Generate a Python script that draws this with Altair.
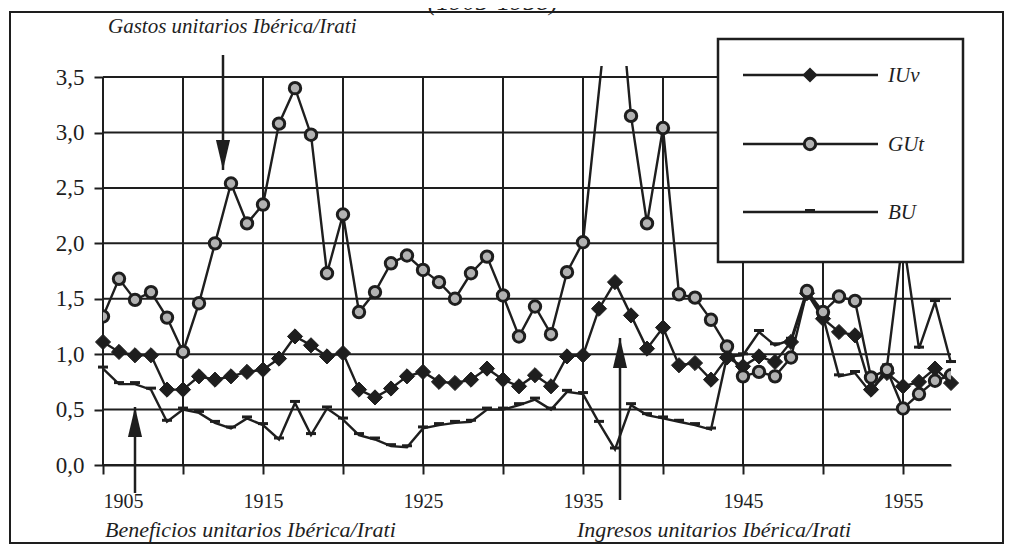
import altair as alt
import pandas as pd

# ---------------- data ----------------
years = list(range(1905, 1959))

iuv = [1.11, 1.02, 0.99, 0.99, 0.68, 0.68, 0.80, 0.77, 0.80, 0.84,
       0.86, 0.96, 1.16, 1.08, 0.98, 1.01, 0.68, 0.61, 0.69, 0.80,
       0.84, 0.75, 0.74, 0.77, 0.87, 0.77, 0.71, 0.81, 0.71, 0.98,
       0.99, 1.41, 1.65, 1.35, 1.05, 1.24, 0.90, 0.92, 0.77, 0.97,
       0.89, 0.98, 0.93, 1.11, 1.55, 1.32, 1.20, 1.17, 0.68, 0.83,
       0.71, 0.75, 0.87, 0.74]

gut = [1.34, 1.68, 1.49, 1.56, 1.33, 1.02, 1.46, 2.00, 2.54, 2.18,
       2.35, 3.08, 3.40, 2.98, 1.73, 2.26, 1.38, 1.56, 1.82, 1.89,
       1.76, 1.65, 1.50, 1.73, 1.88, 1.53, 1.16, 1.43, 1.18, 1.74,
       2.01, None, 4.75, 3.15, 2.18, 3.04, 1.54, 1.51, 1.31, 1.07,
       0.80, 0.84, 0.80, 0.97, 1.57, 1.38, 1.52, 1.48, 0.79, 0.86,
       0.51, 0.64, 0.76, 0.81]

bu = [0.87, 0.73, 0.73, 0.68, 0.39, 0.50, 0.47, 0.38, 0.33, 0.42,
      0.36, 0.23, 0.56, 0.27, 0.51, 0.41, 0.27, 0.23, 0.17, 0.16,
      0.33, 0.36, 0.38, 0.39, 0.50, 0.50, 0.54, 0.59, 0.50, 0.66,
      0.64, 0.38, 0.14, 0.54, 0.45, 0.42, 0.39, 0.36, 0.32, 0.98,
      0.99, 1.20, 1.08, 1.13, 1.58, 1.34, 0.80, 0.83, 0.65, 0.89,
      2.05, 1.05, 1.47, 0.92]

grid_years = [1905, 1910, 1915, 1920, 1925, 1930, 1935, 1940, 1945, 1950, 1955]
grid_values = [0.0, 0.5, 1.0, 1.5, 2.0, 2.5, 3.0, 3.5]
series_names = ["IUv", "GUt", "BU"]

title_text = "(1905-1958) \u00b9"
note_gastos = "Gastos unitarios Ib\u00e9rica/Irati"
note_benef = "Beneficios unitarios Ib\u00e9rica/Irati"
note_ingr = "Ingresos unitarios Ib\u00e9rica/Irati"

# ---------------- styling ----------------
INK = "#1e1e1e"
SERIF = "Liberation Serif"
X_SCALE = alt.Scale(domain=[1905, 1958], nice=False, zero=False)
Y_SCALE = alt.Scale(domain=[0, 3.6], nice=False, zero=False)

df = pd.DataFrame({"year": years, "IUv": iuv, "GUt": gut, "BU": bu})
vg = pd.DataFrame({"year": grid_years})
hg = pd.DataFrame({"v": grid_values})
one = pd.DataFrame({"k": [0]})

BU_PATH = "M-1,-0.6H1V0H-1Z"
TRI_DOWN = "M-0.47,-2L0.47,-2L0,0Z"
TRI_UP = "M-0.47,2L0.47,2L0,0Z"

XAX = alt.Axis(values=grid_years, format="d",
               labelExpr="(datum.value - 1905) % 10 == 0 ? datum.label : ''",
               grid=False, title=None, domainColor=INK, domainWidth=2,
               tickColor=INK, tickWidth=2, tickSize=9, labelFont=SERIF,
               labelFontSize=20, labelColor=INK, labelPadding=17)
YAX = alt.Axis(values=grid_values,
               labelExpr="replace(format(datum.value, '.1f'), '.', ',')",
               domain=False, grid=False, tickSize=9, tickWidth=2, tickColor=INK,
               labelFont=SERIF, labelFontSize=23, labelColor=INK,
               labelPadding=10, title=None)


def X(field):
    return alt.X(field, scale=X_SCALE, axis=XAX)


def Y(field):
    return alt.Y(field, scale=Y_SCALE, axis=YAX)


layers = []

# grid
layers.append(alt.Chart(vg).mark_rule(color=INK, strokeWidth=2).encode(
    x=X("year:Q"),
    y=alt.YDatum(0.0, scale=Y_SCALE, axis=YAX), y2=alt.Y2Datum(3.5)))
layers.append(alt.Chart(hg).mark_rule(color=INK, strokeWidth=2).encode(
    y=Y("v:Q"),
    x=alt.XDatum(1905, scale=X_SCALE, axis=XAX), x2=alt.X2Datum(1958)))

# BU
layers.append(alt.Chart(df).mark_line(color=INK, strokeWidth=2.4).encode(
    x=X("year:Q"), y=Y("BU:Q")))
layers.append(alt.Chart(df).mark_point(shape=BU_PATH, filled=True, size=100,
                                       fill=INK, opacity=1, strokeWidth=0).encode(
    x=X("year:Q"), y=Y("BU:Q")))

# IUv
layers.append(alt.Chart(df).mark_line(color=INK, strokeWidth=2.4).encode(
    x=X("year:Q"), y=Y("IUv:Q")))
layers.append(alt.Chart(df).mark_point(shape="diamond", filled=True, size=230,
                                       fill=INK, stroke=INK, strokeWidth=1,
                                       opacity=1).encode(
    x=X("year:Q"), y=Y("IUv:Q")))

# GUt
layers.append(alt.Chart(df).transform_filter("isValid(datum.GUt)").mark_line(
    color=INK, strokeWidth=2.4, clip=True).encode(
    x=X("year:Q"), y=Y("GUt:Q")))
layers.append(alt.Chart(df).transform_filter("isValid(datum.GUt)").mark_point(
    shape="circle", filled=True, size=130, fill="#b2b2b2", stroke=INK,
    strokeWidth=3, opacity=1, clip=True).encode(
    x=X("year:Q"), y=Y("GUt:Q")))


# annotation arrows
def arrow(x, y_from, y_to, tri):
    shaft = alt.Chart(one).mark_rule(color=INK, strokeWidth=2.5).encode(
        x=alt.value(x), y=alt.value(y_from), y2=alt.value(y_to))
    head = alt.Chart(one).mark_point(shape=tri, filled=True, size=900, fill=INK,
                                     opacity=1, strokeWidth=0).encode(
        x=alt.value(x), y=alt.value(y_to))
    return [shaft, head]


layers += arrow(120, -11, 104, TRI_DOWN)
layers += arrow(32, 427, 341, TRI_UP)
layers += arrow(517, 434, 272, TRI_UP)


def note(text, x, y, size=22, align="left", baseline="alphabetic"):
    return alt.Chart(one).mark_text(text=text, font=SERIF, fontStyle="italic",
                                    fontSize=size, color=INK, align=align,
                                    baseline=baseline).encode(
        x=alt.value(x), y=alt.value(y))


layers.append(note(note_gastos, 5, -33, size=21))
layers.append(note(note_benef, 2, 471, size=22))
layers.append(note(note_ingr, 474, 471, size=22))
layers.append(note(title_text, 397, -56, size=26, align="center"))

# legend box
layers.append(alt.Chart(one).mark_rect(fill="white", stroke=INK, strokeWidth=2.5).encode(
    x=alt.value(615), x2=alt.value(860), y=alt.value(-27), y2=alt.value(196)))
leg_rows = [9, 78, 146]
for name, yy in zip(series_names, leg_rows):
    layers.append(alt.Chart(one).mark_rule(color=INK, strokeWidth=2.4).encode(
        x=alt.value(640), x2=alt.value(775), y=alt.value(yy)))
    layers.append(note(name, 785, yy + 1, size=21, baseline="middle"))
layers.append(alt.Chart(one).mark_point(shape="diamond", filled=True, size=230,
                                        fill=INK, opacity=1).encode(
    x=alt.value(707), y=alt.value(leg_rows[0])))
layers.append(alt.Chart(one).mark_point(shape="circle", filled=True, size=130,
                                        fill="#b2b2b2", stroke=INK, strokeWidth=3,
                                        opacity=1).encode(
    x=alt.value(707), y=alt.value(leg_rows[1])))
layers.append(alt.Chart(one).mark_point(shape=BU_PATH, filled=True, size=100,
                                        fill=INK, opacity=1, strokeWidth=0).encode(
    x=alt.value(707), y=alt.value(leg_rows[2])))

# outer frame
layers.append(alt.Chart(one).mark_rect(fillOpacity=0, stroke=INK, strokeWidth=2).encode(
    x=alt.value(-93), x2=alt.value(900), y=alt.value(-54), y2=alt.value(477)))

chart = alt.layer(*layers).properties(
    width=848, height=399,
    autosize=alt.AutoSizeParams(type="none"),
    padding={"left": 95, "top": 58, "right": 63, "bottom": 79},
    background="white",
).configure_view(stroke=None)

chart.save("out.html", embed_options={"renderer": "svg", "actions": False})
